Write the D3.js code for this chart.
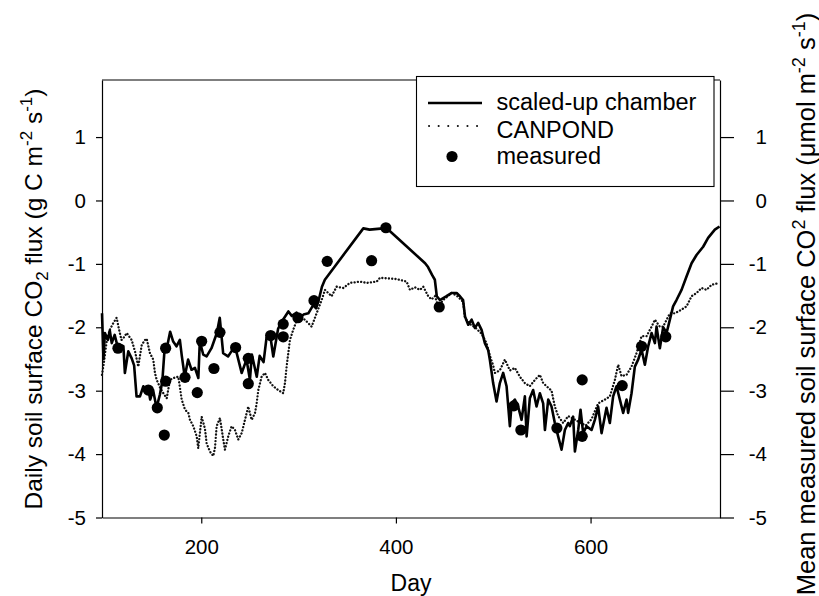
<!DOCTYPE html>
<html>
<head>
<meta charset="utf-8">
<script src="https://cdn.jsdelivr.net/npm/d3@7"></script>
<style>
  body { margin: 0; background: #fff; }
  svg { display: block; }
  text { font-family: "Liberation Sans", Arial, sans-serif; fill: #000; }
</style>
</head>
<body>
<svg id="chart" width="819" height="596"></svg>
<script>
// Scaled-up chamber estimate of daily soil CO2 flux: [day, flux]
const chamber = [
  [98,-1.78],[99.5,-2.5],[101,-2.09],[104,-2.2],[106,-2.05],[108,-2.25],[111,-2.12],[114.5,-2.33],
  [117,-2.28],[120,-2.3],[121.5,-2.72],[125,-2.38],[128.5,-2.49],[131,-2.6],[133.5,-3.09],[137,-3.09],
  [140.5,-2.93],[143,-3.0],[145.5,-2.96],[147.5,-3.14],[150.5,-2.99],[154,-3.27],[157.5,-3.06],[160,-2.85],
  [162.5,-2.3],[165,-2.3],[168,-2.07],[171,-2.22],[174.5,-2.3],[178,-2.2],[180,-2.45],[183,-2.78],
  [186.5,-2.51],[190,-2.67],[193.5,-2.64],[197,-2.8],[198.5,-2.22],[202,-2.43],[205.5,-2.46],[210.5,-2.33],
  [216,-2.09],[219,-1.85],[222.5,-2.41],[227.5,-2.46],[231,-2.38],[235,-2.32],[241.5,-2.72],[246.5,-2.51],
  [250,-2.83],[252,-2.43],[257,-2.78],[260,-2.45],[264,-2.55],[267,-2.17],[270.5,-2.09],[274,-2.46],
  [279,-2.02],[284,-1.88],[289.5,-1.75],[293,-1.82],[298,-1.77],[301.5,-1.85],[305,-1.8],[310,-1.78],
  [315,-1.65],[318,-1.7],[321,-1.55],[324,-1.36],[327,-1.25],[366.5,-0.44],[373,-0.46],[387,-0.44],
  [390,-0.43],[430,-0.99],[433,-1.05],[437,-1.17],[440,-1.25],[442,-1.51],[445.2,-1.57],[452,-1.51],
  [457,-1.46],[462.4,-1.46],[465.8,-1.51],[469,-1.57],[471,-1.83],[474.3,-1.96],[477.8,-1.88],[481.2,-2.01],
  [484.5,-1.93],[488,-2.04],[491.4,-2.25],[494.8,-2.36],[496.6,-2.52],[499.9,-2.88],[503.4,-3.17],[506.8,-2.88],
  [510.2,-2.72],[513.7,-2.93],[517.1,-3.56],[518.9,-3.2],[522.2,-3.14],[525.6,-3.25],[529.1,-3.46],[532.5,-3.09],
  [534.3,-3.72],[537.6,-3.12],[541,-2.99],[544.5,-3.25],[547.9,-3.04],[551.3,-3.2],[553.1,-3.62],[556.5,-3.14],
  [559.9,-3.25],[563.3,-3.51],[566.7,-3.72],[570.2,-3.93],[573.6,-3.62],[577,-3.51],[578.7,-3.56],[582.1,-3.41],
  [583.9,-3.96],[587.3,-3.62],[589.7,-3.3],[592.4,-3.67],[595.9,-3.56],[601,-3.62],[604.4,-3.46],[607.8,-3.25],
  [611.3,-3.67],[616.4,-3.27],[619.8,-3.51],[623.2,-3.09],[626.7,-2.93],[630.1,-3.14],[633.5,-3.35],[637,-3.14],
  [638.6,-3.35],[642.1,-3.04],[645.5,-2.62],[648.9,-2.51],[652.4,-2.35],[655.8,-2.59],[659.2,-2.3],[662.7,-2.09],
  [666.1,-2.25],[667.8,-1.99],[671.2,-2.33],[674.6,-2.0],[678.1,-2.09],[681.5,-1.88],[684.8,-1.67],[688.3,-1.57],
  [693.5,-1.41],[698.6,-1.2],[703.8,-0.99],[708.9,-0.86],[715.7,-0.73],[720.8,-0.59],[727.7,-0.46],[732.5,-0.41]
];

// CANPOND model output: [day, flux]
const canpond = [
  [98,-2.75],[100,-2.55],[103,-2.2],[106,-2.04],[109,-1.95],[113,-1.85],[115,-2.0],[118,-2.2],
  [121,-2.15],[123.4,-2.09],[128.5,-2.2],[131.9,-2.38],[135.3,-2.62],[137,-2.45],[138.8,-2.28],[142.2,-2.2],
  [143.9,-2.18],[147.3,-2.41],[150.7,-2.51],[152.4,-2.72],[154.2,-2.83],[157.6,-2.95],[161,-3.04],[164.5,-3.12],
  [167.8,-2.83],[171.2,-2.8],[176.4,-2.78],[179.9,-3.14],[183.3,-3.3],[186.7,-3.35],[188.4,-3.46],[191.8,-3.56],
  [195.3,-3.72],[196.9,-3.91],[200.4,-3.41],[203.8,-3.6],[205.5,-3.83],[208.9,-3.96],[212.3,-4.03],[214.1,-3.9],
  [215.8,-3.56],[219.2,-3.43],[222.6,-3.77],[224.3,-3.93],[227.7,-3.72],[231.2,-3.56],[234.6,-3.62],[238,-3.77],
  [241.5,-3.67],[244.9,-3.46],[248.3,-3.25],[251.8,-3.46],[255.2,-3.35],[256.9,-3.2],[258.6,-2.99],[262,-2.78],
  [265.4,-2.72],[268.8,-2.83],[274,-2.93],[279.1,-2.99],[284.2,-3.04],[286,-2.88],[287.7,-2.62],[289.4,-2.41],
  [291.1,-2.2],[294.5,-2.04],[299.6,-1.83],[306.5,-1.88],[313.4,-1.99],[316.8,-1.85],[323.7,-1.57],[327.1,-1.41],
  [333.9,-1.51],[339.1,-1.36],[345.9,-1.38],[352.7,-1.3],[363,-1.28],[369.9,-1.3],[380.2,-1.28],[383.6,-1.22],
  [400.7,-1.24],[411,-1.28],[414.4,-1.41],[419.5,-1.37],[424.7,-1.41],[428.1,-1.36],[433.2,-1.51],[436.7,-1.56],
  [440.1,-1.51],[443.5,-1.67],[448.6,-1.57],[457.2,-1.46],[462.4,-1.5],[469.1,-1.6],[470.9,-1.85],[476,-1.95],
  [481.2,-2.0],[488,-2.1],[493.1,-2.25],[496.6,-2.45],[499.9,-2.6],[501.7,-2.72],[506.8,-2.68],[512,-2.51],
  [517.1,-2.68],[522.2,-2.64],[527.4,-2.78],[532.5,-2.88],[537.6,-2.93],[542.8,-2.83],[547.9,-2.75],[551.3,-2.88],
  [554.8,-2.93],[559.9,-3.0],[563.3,-3.25],[566.7,-3.4],[571.9,-3.51],[577,-3.4],[583,-3.45],[589,-3.5],
  [595,-3.55],[601,-3.45],[607.8,-3.2],[614.7,-3.14],[619.8,-3.09],[625,-2.83],[628.4,-2.59],[631.8,-2.77],
  [637,-2.75],[642.1,-2.62],[647.2,-2.41],[652.4,-2.14],[657.5,-2.14],[662.7,-1.99],[666.1,-1.88],[671.2,-1.99],
  [674.6,-1.99],[681.5,-1.78],[686.6,-1.78],[693.5,-1.72],[698.6,-1.67],[703.8,-1.51],[708.9,-1.46],[714,-1.38],
  [719.1,-1.41],[724.3,-1.33],[732.5,-1.3]
];

// Mean measured chamber flux: [day, flux]
const measured = [
  [114.4,-2.33],[145.6,-2.99],[154.8,-3.27],[162,-3.7],[163.4,-2.33],[163.4,-2.85],[183.3,-2.79],
  [195.9,-3.03],[200.4,-2.22],[213,-2.65],[219.2,-2.08],[235.3,-2.32],[248.3,-2.49],[248.3,-2.89],
  [271.3,-2.13],[284.2,-1.95],[284.2,-2.15],[299.3,-1.85],[315.8,-1.58],[329.4,-0.96],[375,-0.95],
  [389.7,-0.43],[444.5,-1.68],[521.2,-3.24],[528.4,-3.62],[565.4,-3.59],[591.4,-2.83],[591.4,-3.72],
  [632.5,-2.92],[652.4,-2.3],[677.3,-2.15]
];

const xTicks = [200, 400, 600];
const yTicks = [-5, -4, -3, -2, -1, 0, 1];
const legendLabels = ["scaled-up chamber", "CANPOND", "measured"];

const svg = d3.select("#chart");
const x = d3.scaleLinear().domain([98, 733]).range([102, 720]);
const y = d3.scaleLinear().domain([-5, 1.9]).range([517.5, 80]);
const plainNumber = d => String(d);

// frame top edge
svg.append("line")
  .attr("x1", x.range()[0]).attr("x2", x.range()[1])
  .attr("y1", y.range()[1]).attr("y2", y.range()[1])
  .attr("stroke", "#000").attr("stroke-width", 1.2);

// left axis
const gl = svg.append("g").attr("transform", `translate(${x.range()[0]},0)`)
  .call(d3.axisLeft(y).tickValues(yTicks).tickSizeInner(6).tickSizeOuter(0).tickPadding(10).tickFormat(plainNumber));

// right axis
const gr = svg.append("g").attr("transform", `translate(${x.range()[1]},0)`)
  .call(d3.axisRight(y).tickValues(yTicks).tickSizeInner(14).tickSizeOuter(0).tickPadding(10).tickFormat(plainNumber));
gr.selectAll(".tick text").attr("text-anchor", "end").attr("x", 47);

// bottom axis
const gb = svg.append("g").attr("transform", `translate(0,${y.range()[0]})`)
  .call(d3.axisBottom(x).tickValues(xTicks).tickSizeInner(6).tickSizeOuter(0).tickPadding(16).tickFormat(plainNumber));

[gl, gr, gb].forEach(g => {
  g.selectAll(".domain").attr("stroke", "#000").attr("stroke-width", 1.2);
  g.selectAll(".tick line").attr("stroke", "#000").attr("stroke-width", 1.2);
  g.selectAll(".tick text").attr("font-size", 20.5).attr("font-family", "Liberation Sans, Arial, sans-serif").attr("fill", "#000");
});

const line = d3.line().x(d => x(d[0])).y(d => y(d[1]));

// CANPOND (dotted)
svg.append("path").datum(canpond)
  .attr("d", line).attr("fill", "none")
  .attr("stroke", "#111").attr("stroke-width", 2.3)
  .attr("stroke-linecap", "round").attr("stroke-dasharray", "0.1 3.2");

// scaled-up chamber (solid)
svg.append("path").datum(chamber)
  .attr("d", line).attr("fill", "none")
  .attr("stroke", "#000").attr("stroke-width", 2.6)
  .attr("stroke-linejoin", "round");

// measured means
svg.append("g").selectAll("circle").data(measured).join("circle")
  .attr("cx", d => x(d[0])).attr("cy", d => y(d[1])).attr("r", 5.6).attr("fill", "#000");

// axis titles
svg.append("text").attr("x", 411).attr("y", 591).attr("text-anchor", "middle")
  .attr("font-size", 23).text("Day");

const lt = svg.append("text").attr("transform", "translate(42,299) rotate(-90)")
  .attr("text-anchor", "middle").attr("font-size", 24.5);
lt.append("tspan").text("Daily soil surface CO");
lt.append("tspan").attr("dy", 6).attr("font-size", 17).text("2");
lt.append("tspan").attr("dy", -6).text(" flux (g C m");
lt.append("tspan").attr("dy", -10).attr("font-size", 17).text("-2");
lt.append("tspan").attr("dy", 10).text(" s");
lt.append("tspan").attr("dy", -10).attr("font-size", 17).text("-1");
lt.append("tspan").attr("dy", 10).text(")");

const rt = svg.append("text").attr("transform", "translate(815,304) rotate(-90)")
  .attr("text-anchor", "middle").attr("font-size", 25.5);
rt.append("tspan").text("Mean measured soil surface CO");
rt.append("tspan").attr("dy", -10).attr("font-size", 18).text("2");
rt.append("tspan").attr("dy", 10).text(" flux (\u03bcmol m");
rt.append("tspan").attr("dy", -10).attr("font-size", 18).text("-2");
rt.append("tspan").attr("dy", 10).text(" s");
rt.append("tspan").attr("dy", -10).attr("font-size", 18).text("-1");
rt.append("tspan").attr("dy", 10).text(")");

// legend
const lg = svg.append("g");
lg.append("rect").attr("x", 416.5).attr("y", 76.5).attr("width", 297.5).attr("height", 110)
  .attr("fill", "#fff").attr("stroke", "#000").attr("stroke-width", 1.1);
lg.append("line").attr("x1", 428).attr("x2", 482).attr("y1", 103).attr("y2", 103)
  .attr("stroke", "#000").attr("stroke-width", 2.6);
lg.append("line").attr("x1", 429).attr("x2", 482).attr("y1", 126).attr("y2", 126)
  .attr("stroke", "#111").attr("stroke-width", 2).attr("stroke-linecap", "round")
  .attr("stroke-dasharray", "0.1 9.5");
lg.append("circle").attr("cx", 452).attr("cy", 156.5).attr("r", 5.6).attr("fill", "#000");
lg.selectAll("text.lab").data(legendLabels).join("text").attr("class", "lab")
  .attr("x", 496.5).attr("y", (d, i) => [110, 138, 164][i])
  .attr("font-size", 23.5).text(d => d);
</script>
</body>
</html>
